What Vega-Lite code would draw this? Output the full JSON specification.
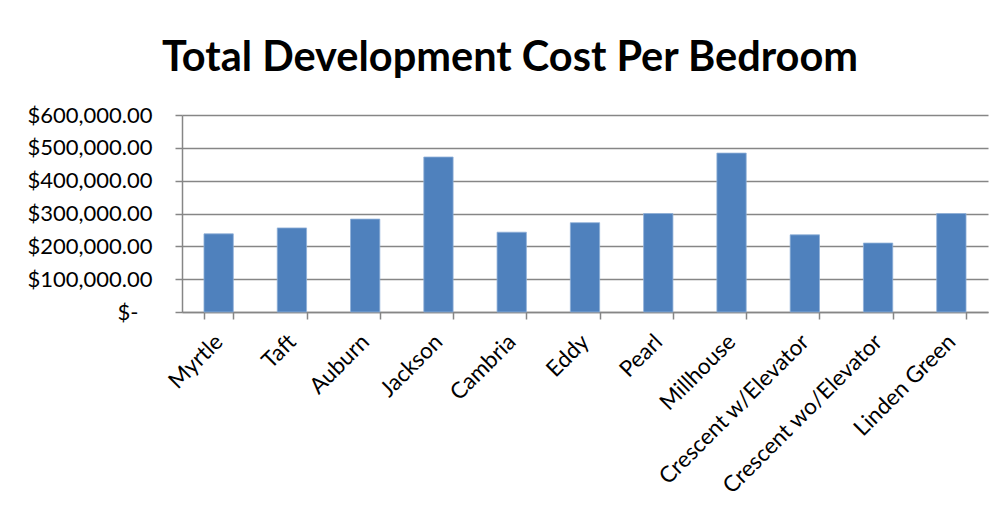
{
  "$schema": "https://vega.github.io/schema/vega-lite/v6.json",
  "width": 806,
  "height": 197,
  "autosize": {"type": "none"},
  "padding": {"left": 182, "top": 115, "right": 16, "bottom": 210},
  "background": "white",
  "title": {
    "text": "Total Development Cost Per Bedroom",
    "font": "Lato",
    "fontSize": 41.5,
    "fontWeight": "bold",
    "color": "black",
    "anchor": "middle",
    "baseline": "alphabetic",
    "offset": -8,
    "dx": -75
  },
  "data": {
    "values": [
      {"project": "Myrtle", "cost": 238000},
      {"project": "Taft", "cost": 256000},
      {"project": "Auburn", "cost": 283000},
      {"project": "Jackson", "cost": 472000},
      {"project": "Cambria", "cost": 243000},
      {"project": "Eddy", "cost": 272000},
      {"project": "Pearl", "cost": 300000},
      {"project": "Millhouse", "cost": 484000},
      {"project": "Crescent w/Elevator", "cost": 235000},
      {"project": "Crescent wo/Elevator", "cost": 210000},
      {"project": "Linden Green", "cost": 300000}
    ]
  },
  "mark": {"type": "bar", "color": "#4F81BD", "stroke": "#8fb0d8", "strokeWidth": 0.8},
  "encoding": {
    "x": {
      "field": "project",
      "type": "nominal",
      "sort": null,
      "scale": {"paddingInner": 0.6, "paddingOuter": 0.3},
      "axis": {
        "title": null,
        "labelAngle": -45,
        "labelFont": "Lato",
        "labelFontSize": 22.5,
        "labelColor": "black",
        "labelPadding": 19,
        "labelAlign": "right",
        "labelBaseline": "middle",
        "labelLimit": 0,
        "labelOverlap": false,
        "tickBand": "extent",
        "tickSize": 7,
        "tickColor": "#868686",
        "tickWidth": 1.5,
        "domainColor": "#868686",
        "domainWidth": 1.5,
        "grid": false
      }
    },
    "y": {
      "field": "cost",
      "type": "quantitative",
      "scale": {"domain": [0, 600000], "nice": false},
      "axis": {
        "title": null,
        "values": [0, 100000, 200000, 300000, 400000, 500000, 600000],
        "labelExpr": "datum.value == 0 ? '$-' : '$' + format(datum.value, ',.2f')",
        "labelFont": "Lato",
        "labelFontSize": 22,
        "labelColor": "black",
        "labelPadding": {"condition": {"test": "datum.value == 0", "value": 37}, "value": 23},
        "tickSize": 7,
        "tickColor": "#868686",
        "tickWidth": 1.5,
        "domainColor": "#868686",
        "domainWidth": 1.5,
        "grid": true,
        "gridColor": "#868686",
        "gridWidth": 1.5
      }
    }
  },
  "config": {"view": {"stroke": null}}
}
